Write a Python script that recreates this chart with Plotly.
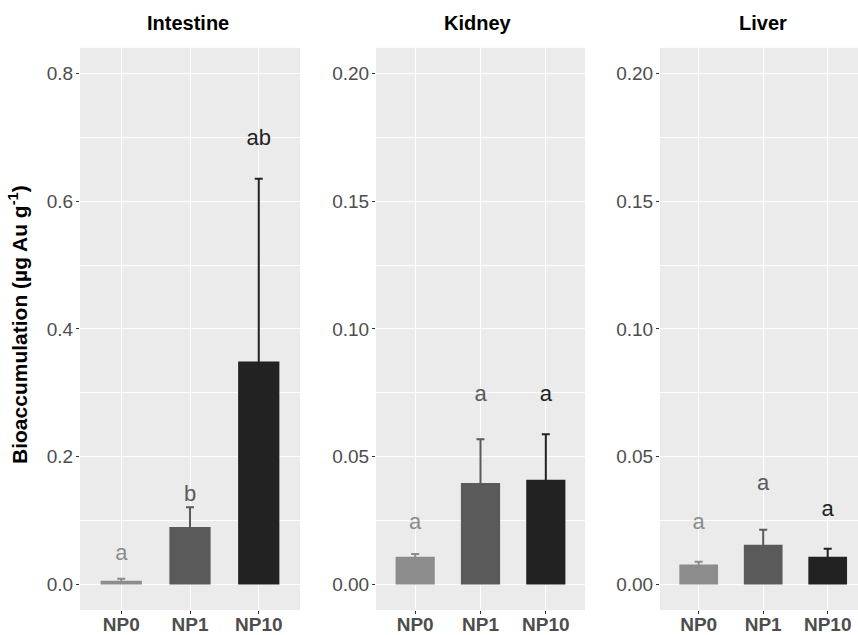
import plotly.graph_objects as go

# data
organs = ["Intestine", "Kidney", "Liver"]
groups = ["NP0", "NP1", "NP10"]
intestine_mean = [0.006, 0.090, 0.349]
intestine_se = [0.003, 0.031, 0.286]
kidney_mean = [0.0109, 0.0397, 0.0410]
kidney_se = [0.0010, 0.0171, 0.0178]
liver_mean = [0.0078, 0.0156, 0.0109]
liver_se = [0.0011, 0.0058, 0.0031]
intestine_letters = ["a", "b", "ab"]
kidney_letters = ["a", "a", "a"]
liver_letters = ["a", "a", "a"]
intestine_letter_y = [0.047, 0.140, 0.697]
kidney_letter_y = [0.024, 0.074, 0.074]
liver_letter_y = [0.024, 0.039, 0.029]
intestine_ticks = [0.0, 0.2, 0.4, 0.6, 0.8]
other_ticks = [0.00, 0.05, 0.10, 0.15, 0.20]

colors = ["#8C8C8C", "#5A5A5A", "#222222"]
W, H = 858, 635
FONT = "Liberation Sans, Arial, sans-serif"

panels = [
    (intestine_mean, intestine_se, intestine_letters, intestine_letter_y),
    (kidney_mean, kidney_se, kidney_letters, kidney_letter_y),
    (liver_mean, liver_se, liver_letters, liver_letter_y),
]

# panel pixel extents (left, right) and the visible x range in category units
panel_px = [(80, 300), (376, 585), (660, 858)]
x_ranges = [[-0.6, 2.6], [-0.6, 2.6], [-0.6, 2.47]]
y_ranges = [[-0.04, 0.84], [-0.01, 0.21], [-0.01, 0.21]]
y_dom = [(H - 612) / H, (H - 48) / H]

fig = go.Figure()

for p, (means, ses, letters, ly) in enumerate(panels):
    xa = "x" if p == 0 else f"x{p + 1}"
    ya = "y" if p == 0 else f"y{p + 1}"
    for i, g in enumerate(groups):
        # symmetric bars: the lower half hides inside the bar of the same colour
        fig.add_trace(go.Bar(
            x=[g], y=[means[i]], width=0.6,
            marker=dict(color=colors[i], line=dict(width=0)),
            error_y=dict(type="data", array=[ses[i]], color=colors[i],
                         thickness=2, width=4),
            xaxis=xa, yaxis=ya, showlegend=False, hoverinfo="skip",
        ))
        fig.add_trace(go.Scatter(
            x=[g], y=[ly[i]], mode="text", text=[letters[i]],
            textfont=dict(size=22, color=colors[i]),
            xaxis=xa, yaxis=ya, showlegend=False, hoverinfo="skip",
        ))

axis_common = dict(
    showline=False, zeroline=False, gridcolor="white", gridwidth=1.4,
    ticks="outside", ticklen=3, tickwidth=1, tickcolor="#333333",
    tickfont=dict(size=19, color="#4D4D4D"), fixedrange=True,
)

layout = dict(
    width=W, height=H, margin=dict(l=0, r=0, t=0, b=0),
    paper_bgcolor="white", plot_bgcolor="#EBEBEB",
    barmode="overlay", font=dict(family=FONT),
    showlegend=False,
)

for p in range(3):
    l, r = panel_px[p]
    key = "" if p == 0 else str(p + 1)
    ticks = intestine_ticks if p == 0 else other_ticks
    fmt = ".1f" if p == 0 else ".2f"
    layout["xaxis" + key] = dict(
        axis_common, domain=[l / W, r / W], anchor="y" + key,
        type="category", categoryorder="array", categoryarray=groups,
        range=x_ranges[p], ticklabelstandoff=-6,
        tickfont=dict(size=19, color="#4D4D4D", family=FONT, weight="bold"),
    )
    layout["yaxis" + key] = dict(
        axis_common, domain=y_dom, anchor="x" + key, range=y_ranges[p],
        tickvals=ticks, tickformat=fmt, ticklabelstandoff=-1,
        minor=dict(showgrid=True, gridcolor="white", gridwidth=0.6,
                   tickvals=[(a + b) / 2 for a, b in zip(ticks[:-1], ticks[1:])]),
    )

fig.update_layout(**layout)

fig.add_annotation(
    text="<b>Bioaccumulation (µg Au g<sup>-1</sup>)</b>", textangle=-90,
    x=18 / W, y=(H - 326) / H, xref="paper", yref="paper", showarrow=False,
    font=dict(size=21, color="black"), xanchor="center", yanchor="middle",
)

title_x = [188, 478, 763]
for name, cx in zip(organs, title_x):
    fig.add_annotation(
        text=f"<b>{name}</b>", x=cx / W, y=(H - 23) / H, xref="paper", yref="paper",
        showarrow=False, font=dict(size=20, color="black"), xanchor="center", yanchor="middle",
    )

page_fix = (
    "document.body.style.margin='0';"
    "document.body.style.overflow='hidden';"
    "document.documentElement.style.overflow='hidden';"
)
fig.write_html("out.html", config={"displayModeBar": False}, post_script=page_fix)
